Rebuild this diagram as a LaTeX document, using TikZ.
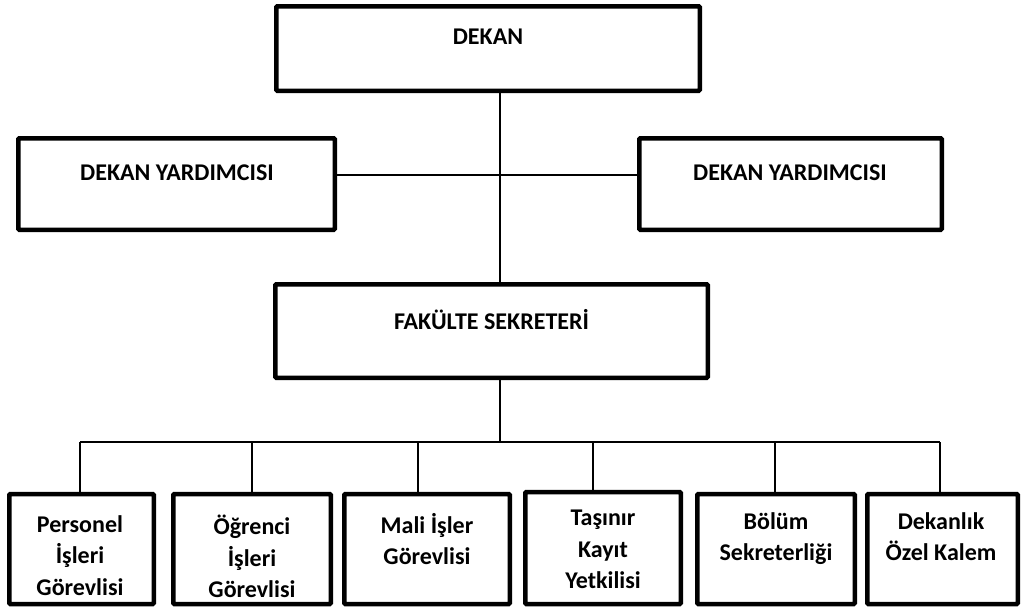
\documentclass[tikz,border=0pt]{standalone}
\usepackage{fontspec}
\setmainfont{Carlito}
\begin{document}
\begin{tikzpicture}[x=1pt,y=-1pt,
  box/.style={draw, line width=4.5pt, rounded corners=1pt, inner sep=0pt, fill=white},
  conn/.style={line width=1.3pt},
  toptext/.style={font=\bfseries\fontsize{24}{28}\selectfont, inner sep=0pt},
  bottext/.style={font=\bfseries\fontsize{24}{31.5}\selectfont, align=center, anchor=north, inner sep=0pt}]
\useasboundingbox (0,0) rectangle (1022,606);
% boxes
\node[box, minimum width=423.5pt, minimum height=84.5pt] (dekan) at (488,48.5) {};
\node[box, minimum width=316.5pt, minimum height=91.5pt] (dyl) at (176.5,184) {};
\node[box, minimum width=302.5pt, minimum height=91.5pt] (dyr) at (790.5,184) {};
\node[box, minimum width=432.5pt, minimum height=93.5pt] (fs) at (491.5,331) {};
\node[box, minimum width=144.5pt, minimum height=110pt] (b1) at (81.5,549) {};
\node[box, minimum width=157.5pt, minimum height=110pt] (b2) at (252,549) {};
\node[box, minimum width=165.5pt, minimum height=110pt] (b3) at (427,549) {};
\node[box, minimum width=155.5pt, minimum height=112pt] (b4) at (603,548) {};
\node[box, minimum width=157.5pt, minimum height=110pt] (b5) at (776,549) {};
\node[box, minimum width=150.5pt, minimum height=110pt] (b6) at (942.5,549) {};
% texts
\node[toptext] (tdekan) at (488,37) {DEKAN};
\node[toptext] (tdyl) at (177,173) {DEKAN YARDIMCISI};
\node[toptext] (tdyr) at (790,173) {DEKAN YARDIMCISI};
\node[toptext] (tfs) at (491.5,320) {FAKÜLTE SEKRETERİ};
\node[bottext] (t1) at (80,515) {Personel\\İşleri\\Görevlisi};
\node[bottext] (t2) at (252,515) {Öğrenci\\İşleri\\Görevlisi};
\node[bottext] (t3) at (427,513) {Mali İşler\\Görevlisi};
\node[bottext] (t4) at (603,510) {Taşınır\\Kayıt\\Yetkilisi};
\node[bottext] (t5) at (776,512) {Bölüm\\Sekreterliği};
\node[bottext] (t6) at (941,512) {Dekanlık\\Özel Kalem};
% connector coordinates
\coordinate (trunk) at (500,175);
\coordinate (bus) at (500,442);
\coordinate (d1) at (80,442);
\coordinate (d2) at (252,442);
\coordinate (d3) at (418,442);
\coordinate (d4) at (593,442);
\coordinate (d5) at (775,442);
\coordinate (d6) at (940,442);
% connectors
\draw[conn] (trunk |- dekan.south) -- (trunk |- fs.north);
\draw[conn] (trunk -| dyl.east) -- (trunk -| dyr.west);
\draw[conn] (bus |- fs.south) -- (bus);
\draw[conn] (d1) -- (d6);
\draw[conn] (d1) -- (d1 |- b1.north);
\draw[conn] (d2) -- (d2 |- b2.north);
\draw[conn] (d3) -- (d3 |- b3.north);
\draw[conn] (d4) -- (d4 |- b4.north);
\draw[conn] (d5) -- (d5 |- b5.north);
\draw[conn] (d6) -- (d6 |- b6.north);
\end{tikzpicture}
\end{document}
